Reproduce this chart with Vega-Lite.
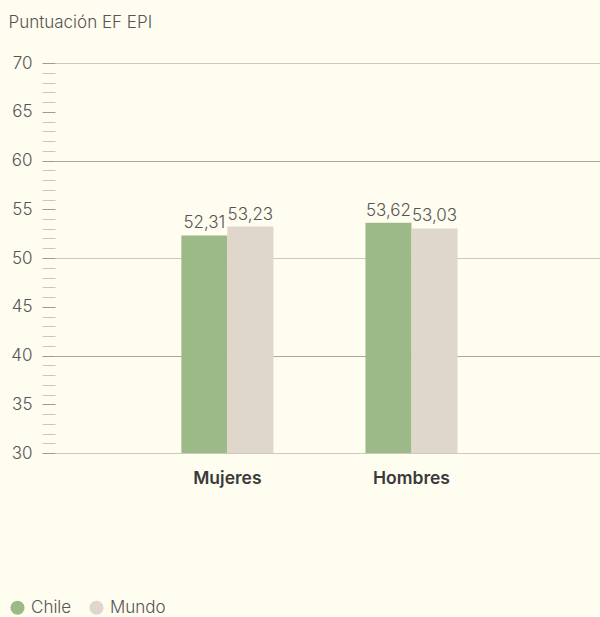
{
  "$schema": "https://vega.github.io/schema/vega-lite/v6.json",
  "width": 545,
  "height": 390,
  "autosize": {"type": "none"},
  "padding": {"left": 55, "top": 63, "right": 0, "bottom": 164},
  "background": "#fffcf0",
  "config": {
    "view": {"stroke": null},
    "font": "Inter",
    "locale": {"number": {"decimal": ",", "thousands": ".", "grouping": [3], "currency": ["", " €"]}}
  },
  "data": {
    "values": [
      {"grupo": "Mujeres", "serie": "Chile", "valor": 52.31},
      {"grupo": "Mujeres", "serie": "Mundo", "valor": 53.23},
      {"grupo": "Hombres", "serie": "Chile", "valor": 53.62},
      {"grupo": "Hombres", "serie": "Mundo", "valor": 53.03}
    ]
  },
  "encoding": {
    "x": {
      "field": "grupo",
      "type": "nominal",
      "sort": ["Mujeres", "Hombres"],
      "scale": {"paddingInner": 0.5, "paddingOuter": 0.73, "align": 0.47},
      "axis": {
        "title": null,
        "domain": false,
        "ticks": false,
        "labelAngle": 0,
        "labelFontSize": 17.5,
        "labelFontWeight": 600,
        "labelColor": "#3a3a3a",
        "labelPadding": 16
      }
    },
    "xOffset": {
      "field": "serie",
      "type": "nominal",
      "sort": ["Chile", "Mundo"],
      "scale": {"paddingInner": 0, "paddingOuter": 0}
    },
    "y": {
      "field": "valor",
      "type": "quantitative",
      "scale": {"domain": [30, 70], "nice": false, "zero": false},
      "axis": {
        "title": "Puntuación EF EPI",
        "titleAngle": 0,
        "titleAlign": "left",
        "titleBaseline": "alphabetic",
        "titleX": -47,
        "titleY": -36,
        "titleFontSize": 17,
        "titleFontWeight": 300,
        "titleColor": "#555555",
        "domain": false,
        "format": "d",
        "values": [30,30.5,31,31.5,32,32.5,33,33.5,34,34.5,35,35.5,36,36.5,37,37.5,38,38.5,39,39.5,40,40.5,41,41.5,42,42.5,43,43.5,44,44.5,45,45.5,46,46.5,47,47.5,48,48.5,49,49.5,50,50.5,51,51.5,52,52.5,53,53.5,54,54.5,55,55.5,56,56.5,57,57.5,58,58.5,59,59.5,60,60.5,61,61.5,62,62.5,63,63.5,64,64.5,65,65.5,66,66.5,67,67.5,68,68.5,69,69.5,70],
        "labelExpr": "datum.value % 5 === 0 ? datum.label : ''",
        "labelOverlap": false,
        "labelFlush": false,
        "labelFontSize": 17,
        "labelFontWeight": 300,
        "labelColor": "#555555",
        "labelPadding": 10,
        "tickSize": {"condition": {"test": "datum.value % 1 === 0", "value": 13}, "value": 9},
        "tickColor": {"condition": {"test": "datum.value % 5 === 0", "value": "#9f9b8f"}, "value": "#cbc7bb"},
        "tickWidth": 1,
        "grid": true,
        "gridOpacity": {"condition": {"test": "datum.value % 10 === 0", "value": 1}, "value": 0},
        "gridColor": {"condition": {"test": "datum.value % 20 === 0", "value": "#aaa79b"}, "value": "#cdc9bd"},
        "gridWidth": 1
      }
    }
  },
  "layer": [
    {
      "mark": {"type": "bar"},
      "encoding": {
        "y2": {"datum": 30},
        "color": {
          "field": "serie",
          "type": "nominal",
          "scale": {"domain": ["Chile", "Mundo"], "range": ["#9cba88", "#dfd6cc"]},
          "legend": {
            "title": null,
            "orient": "none",
            "direction": "horizontal",
            "legendX": -46,
            "legendY": 536,
            "symbolType": "circle",
            "symbolSize": 200,
            "symbolStrokeWidth": 0,
            "symbolOpacity": 1,
            "labelFontSize": 17,
            "labelFontWeight": 300,
            "labelColor": "#555555",
            "labelOffset": 5,
            "columnPadding": 16
          }
        }
      }
    },
    {
      "mark": {"type": "text", "baseline": "bottom", "dy": -3, "fontSize": 17, "fontWeight": 300, "color": "#555555"},
      "encoding": {
        "text": {"field": "valor", "type": "quantitative", "format": ".2f"}
      }
    }
  ]
}
